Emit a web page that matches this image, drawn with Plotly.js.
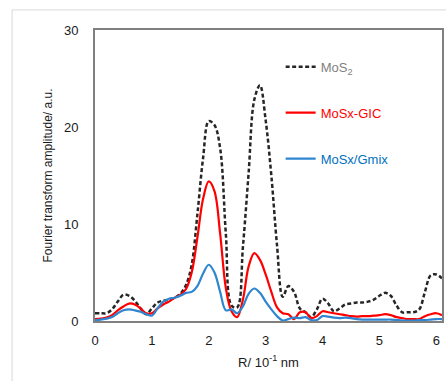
<!DOCTYPE html>
<html>
<head>
<meta charset="utf-8">
<script src="https://cdn.plot.ly/plotly-3.0.1.min.js"></script>
<style>html,body{margin:0;padding:0;background:#fff;}#chart{width:446px;height:381px;}</style>
</head>
<body>
<div id="chart"></div>
<script>
// R / 10^-1 nm
var rValues = [0.0,0.1,0.2,0.3,0.4,0.5,0.6,0.7,0.8,0.9,
  1.0,1.1,1.2,1.3,1.4,1.5,1.6,1.7,1.8,1.9,
  2.0,2.1,2.2,2.3,2.4,2.5,2.6,2.7,2.8,2.9,
  3.0,3.1,3.2,3.3,3.4,3.5,3.6,3.7,3.8,3.9,
  4.0,4.1,4.2,4.3,4.4,4.5,4.6,4.7,4.8,4.9,
  5.0,5.1,5.2,5.3,5.4,5.5,5.6,5.7,5.8,5.9,
  6.0,6.1];

var mos2 = [0.8,0.8,0.8,1.2,2.0,2.7,2.6,2.1,1.3,0.7,
  1.3,1.9,2.1,2.2,2.4,2.8,3.7,5.8,11.0,16.8,
  20.6,20.2,17.8,9.0,1.6,1.4,7.6,15.2,22.8,24.3,
  20.7,15.0,7.8,2.5,3.6,3.0,1.3,0.9,0.4,1.2,
  2.3,1.8,1.0,1.3,1.7,1.8,1.9,1.9,2.0,2.2,
  2.6,2.9,2.6,1.6,0.9,0.9,0.9,1.2,3.0,4.7,
  4.8,4.4];

var mosxGIC = [0.2,0.25,0.35,0.6,1.1,1.5,1.8,1.7,1.3,0.8,
  0.8,1.3,1.7,2.0,2.4,2.7,3.3,5.0,8.6,12.6,
  14.4,13.4,9.0,3.4,1.0,0.4,2.2,5.6,7.0,6.3,
  4.8,3.0,1.4,0.8,0.7,0.2,0.9,0.9,0.3,0.5,
  1.0,0.9,0.8,0.7,0.6,0.5,0.45,0.5,0.5,0.55,
  0.6,0.7,0.6,0.4,0.3,0.2,0.2,0.2,0.5,0.7,
  0.8,0.6];

var mosxGmix = [0.1,0.15,0.25,0.4,0.8,1.1,1.2,1.1,0.95,0.7,
  0.55,1.3,2.0,2.3,2.4,2.6,2.9,3.0,3.6,4.9,
  5.8,5.0,3.0,1.1,1.2,0.8,1.5,2.8,3.35,2.9,
  2.0,1.2,0.5,0.05,0.2,0.35,0.3,0.4,0.1,0.1,
  0.5,0.45,0.35,0.3,0.35,0.3,0.2,0.15,0.15,0.15,
  0.15,0.15,0.15,0.1,0.05,0.05,0.05,0.1,0.1,0.15,
  0.2,0.2];

var seriesNames = ['MoS<sub>2</sub>', 'MoSx-GIC', 'MoSx/Gmix'];
var xTickVals = [0,1,2,3,4,5,6];
var yTickVals = [0,10,20,30];

var traces = [
  {x: rValues, y: mos2, type: 'scatter', mode: 'lines',
   name: '<span style="color:#7f7f7f">' + seriesNames[0] + '</span>', legendgroup: 'a',
   line: {color: '#262626', width: 2.5, dash: '4px,2.5px', shape: 'spline', smoothing: 1}},
  {x: rValues, y: mosxGIC, type: 'scatter', mode: 'lines',
   name: '<span style="color:#ff0000">' + seriesNames[1] + '</span>', legendgroup: 'b',
   line: {color: '#ff0000', width: 2.2, shape: 'spline', smoothing: 1}},
  {x: rValues, y: mosxGmix, type: 'scatter', mode: 'lines',
   name: '<span style="color:#0070c0">' + seriesNames[2] + '</span>', legendgroup: 'c',
   line: {color: '#2f86d0', width: 2.2, shape: 'spline', smoothing: 1}}
];

var layout = {
  width: 446, height: 381,
  margin: {l: 95, r: 4, t: 30, b: 60},
  paper_bgcolor: '#ffffff', plot_bgcolor: '#ffffff',
  font: {family: 'Liberation Sans, Arial, sans-serif', size: 13, color: '#1a1a1a'},
  showlegend: true,
  legend: {x: 0.535, y: 0.925, xanchor: 'left', yanchor: 'top', tracegroupgap: 26,
           font: {size: 13}, itemwidth: 30, bgcolor: 'rgba(0,0,0,0)'},
  xaxis: {range: [0, 6.1], tickvals: xTickVals, ticks: '', showgrid: false, zeroline: false,
          showline: true, linecolor: '#808080', linewidth: 2, mirror: true,
          ticklabelstandoff: 6,
          title: {text: 'R/ 10<sup>-1</sup> nm', font: {size: 13}, standoff: 11}},
  yaxis: {range: [0, 30], tickvals: yTickVals, ticks: '', showgrid: false, zeroline: false,
          showline: true, linecolor: '#808080', linewidth: 2, mirror: true,
          ticklabelstandoff: 12,
          title: {text: 'Fourier transform amplitude/ a.u.', font: {size: 12}, standoff: 9}},
  shapes: [
    {type: 'rect', xref: 'paper', yref: 'paper', x0: -0.239, x1: 1.2, y0: -0.4, y1: 1.069,
     line: {color: '#d9d9d9', width: 1}, fillcolor: 'rgba(0,0,0,0)', layer: 'below'}
  ]
};

Plotly.newPlot('chart', traces, layout, {displayModeBar: false, staticPlot: true});
</script>
</body>
</html>
